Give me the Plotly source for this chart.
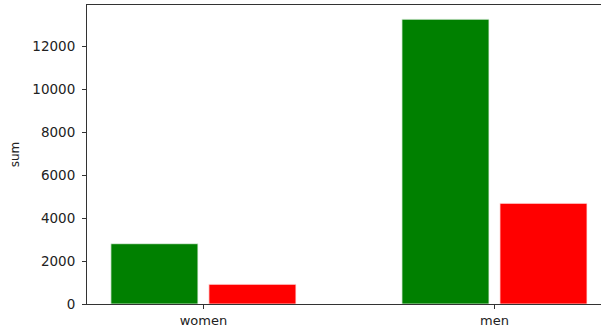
import plotly.graph_objects as go

categories = ["women", "men"]
green_values = [2805, 13250]
red_values = [916, 4683]

fig = go.Figure()
fig.add_trace(go.Bar(x=categories, y=green_values, marker=dict(color="#008000", line=dict(color="#e8f3e8", width=0.8)), showlegend=False))
fig.add_trace(go.Bar(x=categories, y=red_values, marker=dict(color="#ff0000", line=dict(color="#ffe8e8", width=0.8)), showlegend=False))

fig.update_layout(
    width=601, height=328,
    margin=dict(l=87, r=0, t=5, b=24),
    barmode="group", bargap=0.3265, bargroupgap=0.112,
    plot_bgcolor="white", paper_bgcolor="white",
    font=dict(family="DejaVu Sans", size=13, color="#222222"),
)
fig.update_xaxes(
    type="category", range=[-0.4, 1.366],
    showline=True, linecolor="#333333", linewidth=1, mirror=True,
    ticks="outside", ticklen=4, tickcolor="#333333",
    showgrid=False, zeroline=False,
)
fig.update_yaxes(
    range=[0, 13912], tickvals=[0, 2000, 4000, 6000, 8000, 10000, 12000],
    ticktext=["0", "2000", "4000", "6000", "8000", "10000", "12000"],
    tickfont=dict(size=13.5),
    ticklabelstandoff=4,
    showline=True, linecolor="#333333", linewidth=1,
    ticks="outside", ticklen=4, tickcolor="#333333",
    showgrid=False, zeroline=False,
    title=dict(text="sum", font=dict(size=12), standoff=10),
)
fig.write_html("out.html")
